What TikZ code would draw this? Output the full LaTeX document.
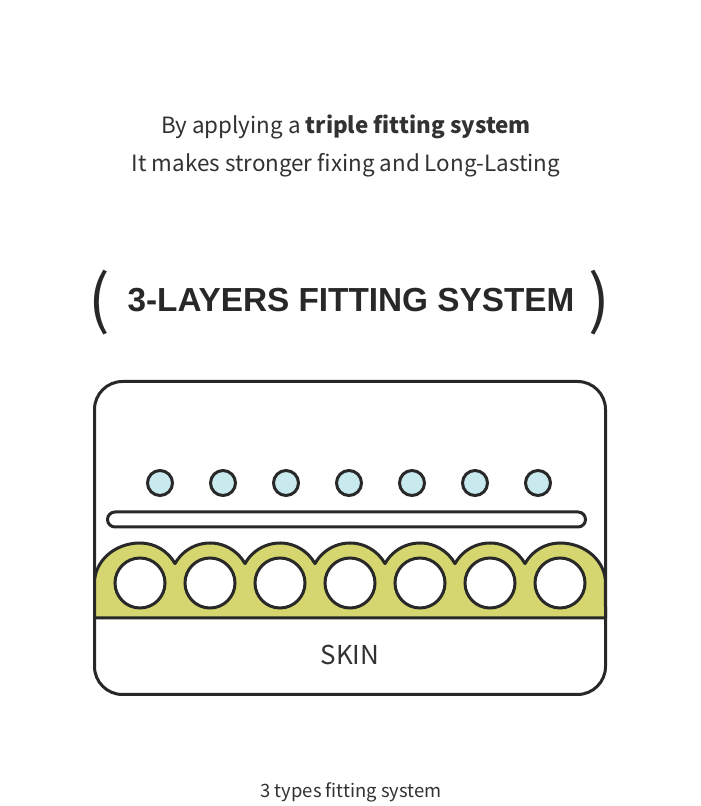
\documentclass[tikz,border=0pt]{standalone}
\usepackage{fontspec}
\setmainfont{Noto Sans CJK KR}
\newfontfamily\headfont{Liberation Sans}
\usepackage{tikz}
\usetikzlibrary{positioning}
\definecolor{inkc}{RGB}{40,40,40}
\definecolor{textc}{RGB}{50,50,50}
\definecolor{dotc}{RGB}{200,233,238}
\definecolor{gluec}{RGB}{213,214,111}
\tikzset{
  dot/.style={circle,draw=inkc,line width=2.25pt,fill=dotc,
              minimum size=18.75pt,inner sep=0pt},
  ring/.style={circle,draw=inkc,line width=2.25pt,fill=white,
               minimum size=37.5pt,inner sep=0pt},
  film/.style={rounded corners=5.6pt,draw=inkc,line width=2.25pt,fill=white,
               minimum width=358.5pt,minimum height=11.25pt,inner sep=0pt},
  intro/.style={font=\fontsize{16.8}{20}\selectfont,text=textc,inner sep=0pt,anchor=base},
  paren/.style={font=\fontsize{48}{50}\selectfont,text=inkc,inner sep=0pt},
}

\begin{document}
\begin{tikzpicture}[x=0.75pt,y=0.75pt]
  \fill[white] (0,0) rectangle (700,806);
  \useasboundingbox (0,0) rectangle (700,806);

  % heading texts
  \node[intro] (line1) at (346,672) {By applying a \textbf{triple fitting system}};
  \node[intro] (line2) at (346,634) {It makes stronger fixing and Long-Lasting};

  \node[font=\headfont\bfseries\fontsize{25}{28}\selectfont,text=inkc] (title) at (351,506)
    {3-LAYERS FITTING SYSTEM};
  \node[paren] (lpar) at (99,503) {(};
  \node[paren] (rpar) at (599,503) {)};

  % outer frame
  \draw[inkc,line width=2.25pt,rounded corners=21pt] (94.5,111.5) rectangle (605.5,424.5);

  % glue layer
  \filldraw[fill=gluec,draw=inkc,line width=2.25pt,line join=round]
    (94.5,188) -- (94.5,223)
    arc[start angle=180,end angle=90,x radius=45.5,y radius=40]
    arc[start angle=90,end angle=28.96,radius=40]
    \foreach \k in {1,...,5}{ arc[start angle=151.04,end angle=28.96,radius=40] }
    arc[start angle=151.04,end angle=90,radius=40]
    arc[start angle=90,end angle=0,x radius=45.5,y radius=40]
    -- (605.5,188) -- cycle;
  \foreach \i in {1,...,7}
    \node[ring] (r\i) at ({70+70*\i},223) {};

  % film and dots
  \node[film] (film) at (346.5,286.5) {};
  \foreach \i in {1,...,7}
    \node[dot] (d\i) at ({97+63*\i},323) {};

  \node[font=\fontsize{19.5}{22}\selectfont,text=textc] (skin) at (350,151) {SKIN};

  \node[font=\fontsize{13.8}{16}\selectfont,text=textc] (note) at (351,14) {3 types fitting system};
\end{tikzpicture}
\end{document}
